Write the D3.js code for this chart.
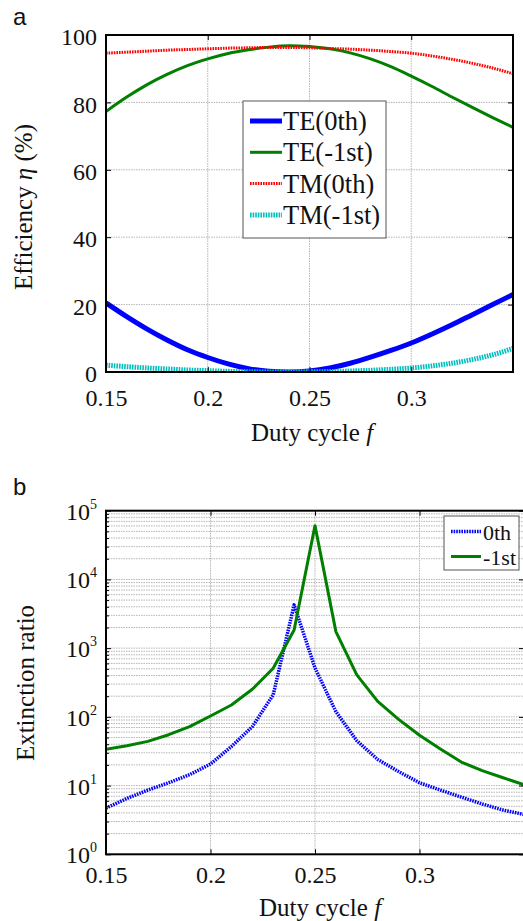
<!DOCTYPE html>
<html>
<head>
<meta charset="utf-8">
<script src="https://cdn.jsdelivr.net/npm/d3@7"></script>
<style>
  body { margin: 0; background: #fff; }
  svg text { font-family: 'Liberation Serif', 'Times New Roman', serif !important; fill: #111; }
  svg text.panel { font-family: 'Liberation Sans', Arial, sans-serif !important; }
  .grid line { stroke: #b5b5b5; stroke-width: 1; stroke-dasharray: 1.5 1; }
</style>
</head>
<body>
<svg id="canvas" width="523" height="921"></svg>
<script>
// duty cycle samples
let duty = [0.15, 0.16, 0.17, 0.18, 0.19, 0.20, 0.21, 0.22, 0.23, 0.24, 0.25,
            0.26, 0.27, 0.28, 0.29, 0.30, 0.31, 0.32, 0.33, 0.34, 0.35]

// panel a : efficiency (%)
let te0  = [20.5, 16.5, 12.8, 9.5, 6.6, 4.3, 2.4, 1.0, 0.2, 0.0, 0.3,
            1.2, 2.6, 4.4, 6.4, 8.6, 11.2, 14.0, 17.0, 20.0, 23.0]
let te1  = [77.3, 81.5, 85.2, 88.3, 90.9, 92.9, 94.5, 95.6, 96.4, 96.8, 96.6,
            95.9, 94.7, 92.9, 90.6, 87.8, 84.8, 81.6, 78.5, 75.5, 72.6]
let tm0  = [94.6, 94.9, 95.2, 95.5, 95.7, 95.9, 96.1, 96.2, 96.3, 96.3, 96.2,
            96.0, 95.8, 95.5, 95.1, 94.6, 93.8, 92.8, 91.6, 90.2, 88.5]
let tm1  = [2.0, 1.6, 1.2, 0.9, 0.6, 0.4, 0.2, 0.1, 0.0, 0.0, 0.05,
            0.15, 0.3, 0.5, 0.8, 1.2, 1.8, 2.6, 3.7, 5.1, 7.0]

// panel b : extinction ratio
let er0  = [4.7, 6.5, 8.6, 11, 14.4, 20.6, 37, 72, 209, 4260, 515,
            119, 45, 24, 16, 11, 8.6, 6.8, 5.4, 4.4, 3.8]
let er1  = [33.7, 38, 44, 55, 72, 103, 149, 252, 510, 1840, 60600,
            1740, 408, 168, 92, 54, 34, 22, 16.5, 13, 10.3]

let xTicks = [0.15, 0.2, 0.25, 0.3]
let effTicks = [0, 20, 40, 60, 80, 100]
let decades = [0, 1, 2, 3, 4, 5]

let svg = d3.select('#canvas')

// ---------- panel a ----------
let xa = d3.scaleLinear().domain([0.15, 0.35]).range([106, 513])
let ya = d3.scaleLinear().domain([0, 100]).range([372, 35])

let ga = svg.append('g')

ga.append('g').attr('class', 'grid')
  .selectAll('line').data(xTicks.slice(1)).enter().append('line')
  .attr('x1', d => xa(d)).attr('x2', d => xa(d))
  .attr('y1', ya(0)).attr('y2', ya(100))
ga.append('g').attr('class', 'grid')
  .selectAll('line').data(effTicks.slice(1, -1)).enter().append('line')
  .attr('x1', xa(0.15)).attr('x2', xa(0.35))
  .attr('y1', d => ya(d)).attr('y2', d => ya(d))

let lineA = (vals) => d3.line()
  .x((d, i) => xa(duty[i]))
  .y(d => ya(d))
  .curve(d3.curveMonotoneX)(vals)

let seriesA = [
  { name: 'TE(0th)',  vals: te0, color: '#0000ff', w: 5,   dash: null },
  { name: 'TE(-1st)', vals: te1, color: '#007f00', w: 3,   dash: null },
  { name: 'TM(0th)',  vals: tm0, color: '#ff0000', w: 3,   dash: '1.6 1' },
  { name: 'TM(-1st)', vals: tm1, color: '#00bfbf', w: 5,   dash: '1.6 1' }
]

ga.append('clipPath').attr('id', 'clipA').append('rect')
  .attr('x', 106).attr('y', 35).attr('width', 407).attr('height', 337)

ga.append('g').attr('clip-path', 'url(#clipA)')
  .selectAll('path').data(seriesA).enter().append('path')
  .attr('d', s => lineA(s.vals))
  .attr('fill', 'none')
  .attr('stroke', s => s.color)
  .attr('stroke-width', s => s.w)
  .attr('stroke-dasharray', s => s.dash)

// box + inward ticks
ga.append('rect').attr('x', 106).attr('y', 35).attr('width', 407).attr('height', 337)
  .attr('fill', 'none').attr('stroke', '#000').attr('stroke-width', 2)

ga.append('g').call(d3.axisBottom(xa).tickValues(xTicks).tickSizeInner(-5).tickSizeOuter(0)
    .tickFormat(d3.format('')))
  .attr('transform', 'translate(0,372)')
  .call(g => g.select('.domain').remove())
  .call(g => g.selectAll('text').attr('dy', null).attr('y', 34).style('font-size', '24px'))
ga.append('g').call(d3.axisTop(xa).tickValues(xTicks).tickSizeInner(-5).tickSizeOuter(0).tickFormat(''))
  .attr('transform', 'translate(0,35)')
  .call(g => g.select('.domain').remove())
ga.append('g').call(d3.axisLeft(ya).tickValues(effTicks).tickSizeInner(-5).tickSizeOuter(0))
  .attr('transform', 'translate(106,0)')
  .call(g => g.select('.domain').remove())
  .call(g => g.selectAll('text').attr('x', -9).attr('dy', '0.4em').style('font-size', '24px'))
ga.append('g').call(d3.axisRight(ya).tickValues(effTicks).tickSizeInner(-5).tickSizeOuter(0).tickFormat(''))
  .attr('transform', 'translate(513,0)')
  .call(g => g.select('.domain').remove())

ga.append('text').attr('x', 312).attr('y', 441).attr('text-anchor', 'middle')
  .style('font-size', '25px')
  .call(t => { t.append('tspan').text('Duty cycle '); t.append('tspan').attr('font-style', 'italic').text('f') })
ga.append('text').attr('transform', 'translate(32,207) rotate(-90)').attr('text-anchor', 'middle')
  .style('font-size', '25px')
  .call(t => {
    t.append('tspan').text('Efficiency ')
    t.append('tspan').attr('font-style', 'italic').text('η')
    t.append('tspan').text(' (%)')
  })

// legend a
let lega = ga.append('g')
lega.append('rect').attr('x', 243).attr('y', 101).attr('width', 143).attr('height', 137)
  .attr('fill', '#fff').attr('stroke', '#555').attr('stroke-width', 1)
let legItemsA = lega.selectAll('g').data(seriesA).enter().append('g')
  .attr('transform', (d, i) => 'translate(0,' + (121 + i * 31.3) + ')')
legItemsA.append('line').attr('x1', 250).attr('x2', 282).attr('y1', 0).attr('y2', 0)
  .attr('stroke', s => s.color).attr('stroke-width', s => s.w).attr('stroke-dasharray', s => s.dash)
legItemsA.append('text').attr('x', 283).attr('y', 9).style('font-size', '26.5px').text(s => s.name)

svg.append('text').attr('class', 'panel').attr('x', 13).attr('y', 25)
  .style('font-size', '24px').text('a')

// ---------- panel b ----------
let xb = d3.scaleLinear().domain([0.15, 0.35]).range([106, 524])
let yb = d3.scaleLog().domain([1, 1e5]).range([854.3, 510.7])

let gb = svg.append('g')

let minorVals = []
decades.slice(0, -1).forEach(e => {
  for (let m = 2; m <= 9; m++) minorVals.push(m * Math.pow(10, e))
})
let majorVals = decades.map(e => Math.pow(10, e))

gb.append('g').attr('class', 'grid')
  .selectAll('line').data(xTicks.slice(1)).enter().append('line')
  .attr('x1', d => xb(d)).attr('x2', d => xb(d))
  .attr('y1', yb(1)).attr('y2', yb(1e5))
gb.append('g').attr('class', 'grid')
  .selectAll('line').data(minorVals.concat(majorVals.slice(1, -1))).enter().append('line')
  .attr('x1', xb(0.15)).attr('x2', xb(0.35))
  .attr('y1', d => yb(d)).attr('y2', d => yb(d))

let lineB = (vals) => d3.line()
  .x((d, i) => xb(duty[i]))
  .y(d => yb(d))(vals)

let seriesB = [
  { name: '0th',  vals: er0, color: '#0000ff', w: 3.5, dash: '1.6 1' },
  { name: '-1st', vals: er1, color: '#007f00', w: 3,   dash: null }
]

gb.append('clipPath').attr('id', 'clipB').append('rect')
  .attr('x', 106).attr('y', 510.7).attr('width', 418).attr('height', 343.6)

gb.append('g').attr('clip-path', 'url(#clipB)')
  .selectAll('path').data(seriesB).enter().append('path')
  .attr('d', s => lineB(s.vals))
  .attr('fill', 'none')
  .attr('stroke', s => s.color)
  .attr('stroke-width', s => s.w)
  .attr('stroke-linejoin', 'round')
  .attr('stroke-dasharray', s => s.dash)

gb.append('rect').attr('x', 106).attr('y', 510.7).attr('width', 418).attr('height', 343.6)
  .attr('fill', 'none').attr('stroke', '#000').attr('stroke-width', 2)

gb.append('g').call(d3.axisBottom(xb).tickValues(xTicks).tickSizeInner(-5).tickSizeOuter(0)
    .tickFormat(d3.format('')))
  .attr('transform', 'translate(0,854.3)')
  .call(g => g.select('.domain').remove())
  .call(g => g.selectAll('text').attr('dy', null).attr('y', 29).style('font-size', '24px'))
gb.append('g').call(d3.axisTop(xb).tickValues(xTicks).tickSizeInner(-5).tickSizeOuter(0).tickFormat(''))
  .attr('transform', 'translate(0,510.7)')
  .call(g => g.select('.domain').remove())
// major y ticks with 10^n labels
gb.append('g').call(d3.axisLeft(yb).tickValues(majorVals).tickSizeInner(-5).tickSizeOuter(0).tickFormat(''))
  .attr('transform', 'translate(106,0)')
  .call(g => g.select('.domain').remove())
gb.append('g').call(d3.axisLeft(yb).tickValues(minorVals).tickSizeInner(-3).tickSizeOuter(0).tickFormat(''))
  .attr('transform', 'translate(106,0)')
  .call(g => g.select('.domain').remove())
gb.append('g').call(d3.axisRight(yb).tickValues(majorVals).tickSizeInner(-5).tickSizeOuter(0).tickFormat(''))
  .attr('transform', 'translate(524,0)')
  .call(g => g.select('.domain').remove())

gb.selectAll('text.ylab').data(decades).enter().append('text')
  .attr('class', 'ylab')
  .attr('x', 97).attr('y', e => yb(Math.pow(10, e)) + 9)
  .attr('text-anchor', 'end')
  .style('font-size', '24px')
  .call(t => {
    t.append('tspan').text('10')
    t.append('tspan').attr('dy', -11).style('font-size', '14px').text(e => e)
  })

gb.append('text').attr('x', 320).attr('y', 916).attr('text-anchor', 'middle')
  .style('font-size', '25px')
  .call(t => { t.append('tspan').text('Duty cycle '); t.append('tspan').attr('font-style', 'italic').text('f') })
gb.append('text').attr('transform', 'translate(34,683) rotate(-90)').attr('text-anchor', 'middle')
  .style('font-size', '25px').text('Extinction ratio')

// legend b
let legb = gb.append('g')
legb.append('rect').attr('x', 444).attr('y', 516).attr('width', 75).attr('height', 54)
  .attr('fill', '#fff').attr('stroke', '#555').attr('stroke-width', 1)
let legItemsB = legb.selectAll('g').data(seriesB).enter().append('g')
  .attr('transform', (d, i) => 'translate(0,' + (531.5 + i * 25) + ')')
legItemsB.append('line').attr('x1', 451).attr('x2', 481).attr('y1', 0).attr('y2', 0)
  .attr('stroke', s => s.color).attr('stroke-width', s => s.w).attr('stroke-dasharray', s => s.dash)
legItemsB.append('text').attr('x', 483).attr('y', 8).style('font-size', '22px').text(s => s.name)

svg.append('text').attr('class', 'panel').attr('x', 13).attr('y', 495)
  .style('font-size', '24px').text('b')
</script>
</body>
</html>
